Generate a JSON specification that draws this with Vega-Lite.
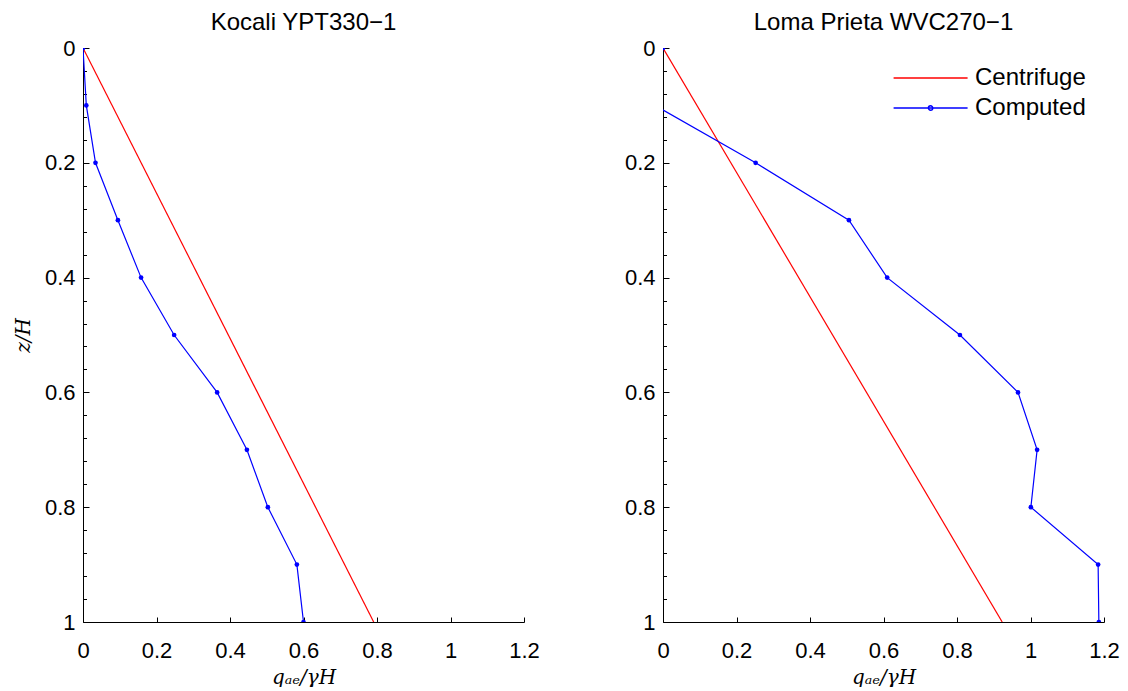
{
  "$schema": "https://vega.github.io/schema/vega-lite/v6.json",
  "background": "white",
  "padding": {"left": 13, "top": 11, "right": 2, "bottom": 0},
  "bounds": "flush",
  "spacing": 139,
  "resolve": {"scale": {"color": "independent"}, "legend": {"color": "independent"}},
  "config": {
    "font": "Liberation Sans",
    "view": {"stroke": null},
    "title": {"fontSize": 24, "fontWeight": "normal", "font": "Liberation Sans", "offset": 2, "color": "black"},
    "axis": {
      "domainColor": "black", "tickColor": "black", "labelColor": "black",
      "labelFontSize": 22, "labelFont": "Liberation Sans", "grid": false,
      "titleFont": "DejaVu Serif", "titleFontStyle": "italic", "titleFontWeight": "normal",
      "titleFontSize": 20, "titleColor": "black", "labelFlush": false,
      "domainWidth": 1, "tickWidth": 1
    },
    "legend": {"labelFont": "Liberation Sans", "labelFontSize": 24, "labelColor": "black"}
  },
  "datasets": {
    "kocali": [
      {"series": "Centrifuge", "z": 0, "q": 0},
      {"series": "Centrifuge", "z": 1, "q": 0.791},
      {"series": "Computed", "z": 0, "q": 0},
      {"series": "Computed", "z": 0.1, "q": 0.009},
      {"series": "Computed", "z": 0.2, "q": 0.034},
      {"series": "Computed", "z": 0.3, "q": 0.095},
      {"series": "Computed", "z": 0.4, "q": 0.158},
      {"series": "Computed", "z": 0.5, "q": 0.248},
      {"series": "Computed", "z": 0.6, "q": 0.365},
      {"series": "Computed", "z": 0.7, "q": 0.446},
      {"series": "Computed", "z": 0.8, "q": 0.503},
      {"series": "Computed", "z": 0.9, "q": 0.582},
      {"series": "Computed", "z": 1, "q": 0.6}
    ],
    "loma": [
      {"series": "Centrifuge", "z": 0, "q": 0},
      {"series": "Centrifuge", "z": 1, "q": 0.923},
      {"series": "Computed", "z": 0, "q": 0},
      {"series": "Computed", "z": 0.1, "q": -0.022},
      {"series": "Computed", "z": 0.2, "q": 0.252},
      {"series": "Computed", "z": 0.3, "q": 0.506},
      {"series": "Computed", "z": 0.4, "q": 0.61},
      {"series": "Computed", "z": 0.5, "q": 0.808},
      {"series": "Computed", "z": 0.6, "q": 0.966},
      {"series": "Computed", "z": 0.7, "q": 1.018},
      {"series": "Computed", "z": 0.8, "q": 1.001},
      {"series": "Computed", "z": 0.9, "q": 1.184},
      {"series": "Computed", "z": 1, "q": 1.186}
    ]
  },
  "hconcat": [
    {
      "title": "Kocali YPT330−1",
      "width": 441, "height": 574,
      "data": {"name": "kocali"},
      "resolve": {"scale": {"y": "independent"}, "axis": {"y": "independent"}},
      "layer": [
        {
          "layer": [
            {
              "mark": {"type": "line", "clip": true, "strokeWidth": 1.2},
              "encoding": {
                "x": {"field": "q", "type": "quantitative", "scale": {"domain": [0, 1.2], "nice": false, "zero": false},
                  "axis": {"values": [0, 0.2, 0.4, 0.6, 0.8, 1, 1.2], "format": "~g", "tickSize": -5, "labelPadding": 23, "labelOverlap": false, "title": "qₐₑ/γH", "titlePadding": 6}},
                "y": {"field": "z", "type": "quantitative", "scale": {"domain": [0, 1], "reverse": true, "nice": false, "zero": false},
                  "axis": {"values": [0, 0.2, 0.4, 0.6, 0.8, 1], "format": "~g", "tickSize": -6, "labelOverlap": false, "labelPadding": 14, "title": "z/H", "titlePadding": 11}},
                "color": {"field": "series", "type": "nominal", "scale": {"domain": ["Centrifuge", "Computed"], "range": ["#ff0000", "#0000ff"]}, "legend": null},
                "order": {"field": "z", "type": "quantitative"}
              }
            },
            {
              "transform": [{"filter": "datum.series === 'Computed'"}],
              "mark": {"type": "point", "filled": true, "clip": true, "size": 22, "opacity": 1, "color": "#0000ff"},
              "encoding": {
                "x": {"field": "q", "type": "quantitative"},
                "y": {"field": "z", "type": "quantitative"}
              }
            }
          ]
        },
        {
          "mark": {"type": "point", "opacity": 0},
          "encoding": {
            "y": {"field": "z", "type": "quantitative", "scale": {"domain": [0, 1], "reverse": true, "nice": false, "zero": false},
              "axis": {"orient": "left", "values": [0.04,0.08,0.12,0.16,0.24,0.28,0.32,0.36,0.44,0.48,0.52,0.56,0.64,0.68,0.72,0.76,0.84,0.88,0.92,0.96],
                "labels": false, "domain": false, "tickSize": -3.5, "title": null, "grid": false}}
          }
        }
      ]
    },
    {
      "title": "Loma Prieta WVC270−1",
      "width": 441, "height": 574,
      "data": {"name": "loma"},
      "resolve": {"scale": {"y": "independent"}, "axis": {"y": "independent"}},
      "layer": [
        {
          "layer": [
            {
              "mark": {"type": "line", "clip": true, "strokeWidth": 1.2},
              "encoding": {
                "x": {"field": "q", "type": "quantitative", "scale": {"domain": [0, 1.2], "nice": false, "zero": false},
                  "axis": {"values": [0, 0.2, 0.4, 0.6, 0.8, 1, 1.2], "format": "~g", "tickSize": -5, "labelPadding": 23, "labelOverlap": false, "title": "qₐₑ/γH", "titlePadding": 6}},
                "y": {"field": "z", "type": "quantitative", "scale": {"domain": [0, 1], "reverse": true, "nice": false, "zero": false},
                  "axis": {"values": [0, 0.2, 0.4, 0.6, 0.8, 1], "format": "~g", "tickSize": -6, "labelOverlap": false, "labelPadding": 14, "title": null}},
                "color": {"field": "series", "type": "nominal", "scale": {"domain": ["Centrifuge", "Computed"], "range": ["#ff0000", "#0000ff"]},
                  "legend": {"title": null, "orient": "top-right", "offset": 18, "symbolType": "stroke", "symbolSize": 219, "symbolStrokeWidth": 1.4, "labelFontSize": 24, "labelOffset": 8, "rowPadding": 6,
                    "encode": {"symbols": {"update": {"shape": {"signal": "datum.value === 'Computed' ? 'M-8.3,0H1.7M-3.6,0a0.3,0.3 0 1,0 0.6,0a0.3,0.3 0 1,0 -0.6,0' : 'M-8.3,0H1.7'"}}}}}},
                "order": {"field": "z", "type": "quantitative"}
              }
            },
            {
              "transform": [{"filter": "datum.series === 'Computed'"}],
              "mark": {"type": "point", "filled": true, "clip": true, "size": 22, "opacity": 1, "color": "#0000ff"},
              "encoding": {
                "x": {"field": "q", "type": "quantitative"},
                "y": {"field": "z", "type": "quantitative"}
              }
            }
          ]
        },
        {
          "mark": {"type": "point", "opacity": 0},
          "encoding": {
            "y": {"field": "z", "type": "quantitative", "scale": {"domain": [0, 1], "reverse": true, "nice": false, "zero": false},
              "axis": {"orient": "left", "values": [0.04,0.08,0.12,0.16,0.24,0.28,0.32,0.36,0.44,0.48,0.52,0.56,0.64,0.68,0.72,0.76,0.84,0.88,0.92,0.96],
                "labels": false, "domain": false, "tickSize": -3.5, "title": null, "grid": false}}
          }
        }
      ]
    }
  ]
}
